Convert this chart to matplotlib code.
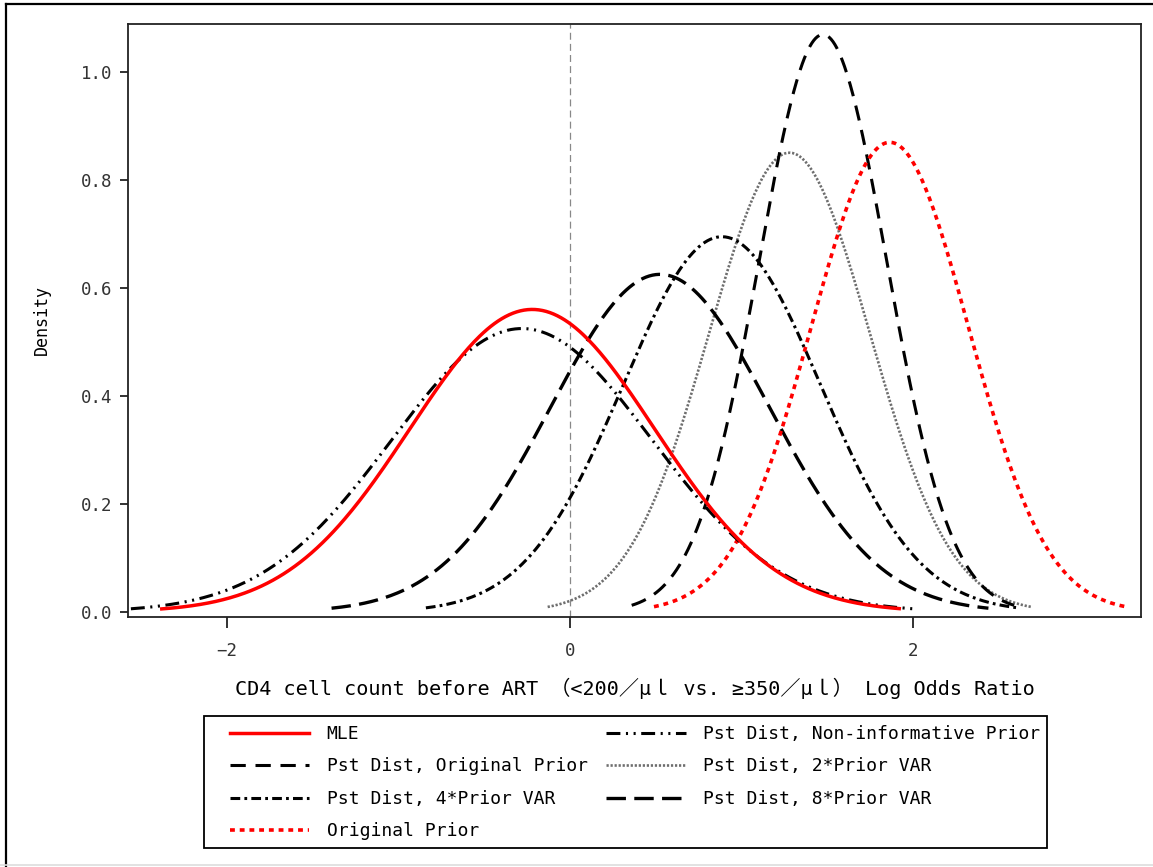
import numpy as np
import matplotlib
matplotlib.use("Agg")
import matplotlib.pyplot as plt
from matplotlib.lines import Line2D
from matplotlib.patches import Rectangle

plt.rcParams["font.family"] = ["DejaVu Sans Mono", "Noto Sans CJK SC"]
plt.rcParams["lines.scale_dashes"] = False

# Normal density curves: label, mean, standard deviation
labels = [
    "MLE",
    "Pst Dist, Original Prior",
    "Pst Dist, 4*Prior VAR",
    "Original Prior",
    "Pst Dist, Non-informative Prior",
    "Pst Dist, 2*Prior VAR",
    "Pst Dist, 8*Prior VAR",
]
means = [-0.22, 1.475, 0.886, 1.865, -0.28, 1.28, 0.525]
sds = [0.712, 0.373, 0.574, 0.4586, 0.76, 0.469, 0.638]
# Plotted extent of each curve (x from, x to)
x_lo = [-2.38, 0.36, -0.84, 0.49, -2.56, -0.13, -1.39]
x_hi = [1.92, 2.59, 2.61, 3.24, 2.0, 2.69, 2.44]

colors = ["#ff0000", "black", "black", "#ff0000", "black", "#6e6e6e", "black"]
widths = [2.5, 2.2, 2.2, 2.6, 2.2, 1.9, 2.4]
dashes = [None, (11, 7), (7, 3, 2, 3), (3.5, 3.5), (10, 4, 1.5, 4, 1.5, 4), (1.6, 1.3), (14, 6)]
zorders = [5, 3, 3, 4, 4, 2, 3]

xticks = [-2, 0, 2]
yticks = [0.0, 0.2, 0.4, 0.6, 0.8, 1.0]

W, H = 1153, 867
fig = plt.figure(figsize=(W / 100, H / 100), dpi=100)
ax = fig.add_axes([0.111, 0.2884, 0.8785, 0.6839])

ax.axvline(0, color="#888888", lw=0.9, dashes=(5, 3), zorder=1)

for lab, m, s, lo, hi, c, w, d, z in zip(labels, means, sds, x_lo, x_hi,
                                         colors, widths, dashes, zorders):
    x = np.linspace(lo, hi, 400)
    y = np.exp(-0.5 * ((x - m) / s) ** 2) / (s * np.sqrt(2 * np.pi))
    kw = dict(color=c, lw=w, label=lab, zorder=z)
    if d is None:
        ax.plot(x, y, ls="-", **kw)
    else:
        ax.plot(x, y, dashes=d, **kw)

ax.set_xlim(-2.577, 3.329)
ax.set_ylim(-0.0093, 1.089)
ax.set_xticks(xticks)
ax.set_xticklabels([f"{t}".replace("-", "\u2212") for t in xticks])
ax.set_yticks(yticks)
ax.set_yticklabels([f"{t:.1f}" for t in yticks])
ax.tick_params(axis="both", direction="out", labelsize=12.5, colors="#222222",
               width=1.3, labelcolor="#333333")
ax.tick_params(axis="x", length=8, pad=10)
ax.tick_params(axis="y", length=6, pad=5)
for sp in ax.spines.values():
    sp.set_linewidth(1.3)
    sp.set_color("#222222")

ax.set_ylabel("Density", fontsize=12, labelpad=22)
ax.set_xlabel("CD4 cell count before ART \uff08<200\uff0f\u03bc\uff4c vs. \u2265350\uff0f\u03bc\uff4c\uff09 Log Odds Ratio",
              fontsize=14.5, labelpad=13)

# Legend entries laid out in two columns, with a separate frame around them
handles, labs = ax.get_legend_handles_labels()
leg = fig.legend(handles, labs, loc="upper left", ncol=2,
                 bbox_to_anchor=(230 / W, 0.02, (1040 - 230) / W, 1 - 725 / H - 0.02),
                 mode="expand", fontsize=13, frameon=False,
                 handlelength=4.4, handletextpad=0.95, labelspacing=0.8,
                 borderpad=0, borderaxespad=0)
fig.add_artist(Rectangle((204 / W, 1 - 848 / H), (1047 - 204) / W, (848 - 716) / H,
                         transform=fig.transFigure, fill=False,
                         edgecolor="black", lw=1.3))

# Outer frame around the figure
fig.add_artist(Line2D([6 / W, 1.0], [1 - 4 / H] * 2, transform=fig.transFigure,
                      color="black", lw=1.6))
fig.add_artist(Line2D([6 / W] * 2, [0, 1 - 4 / H], transform=fig.transFigure,
                      color="black", lw=1.6))
fig.add_artist(Line2D([0, 1], [2 / H] * 2, transform=fig.transFigure,
                      color="#dddddd", lw=1.2))

fig.savefig("out.png", dpi=100)
